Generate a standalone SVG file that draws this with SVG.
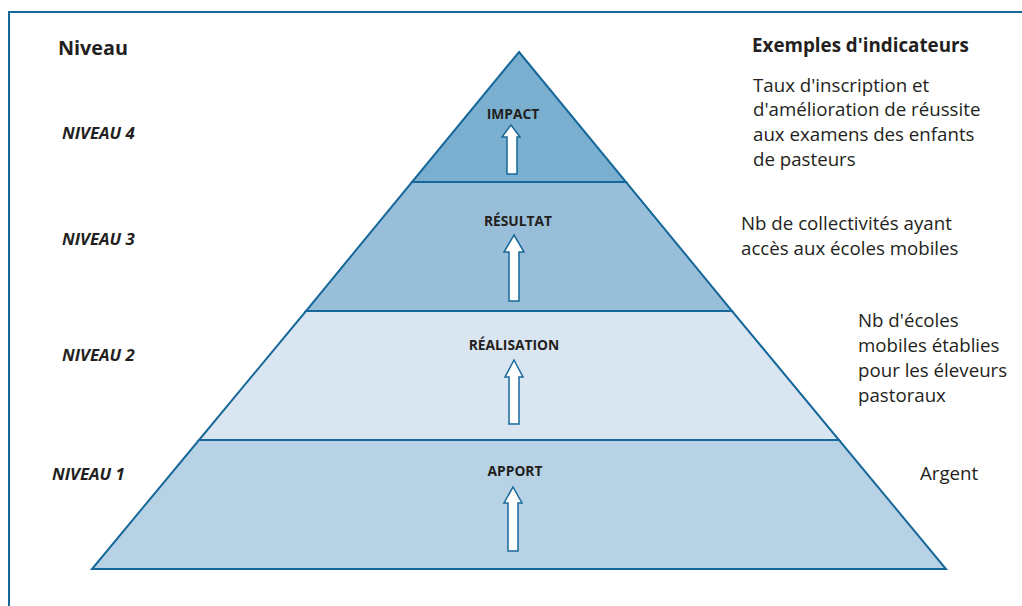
<svg xmlns="http://www.w3.org/2000/svg" width="1022" height="606" viewBox="0 0 1022 606">
<style>
.tier{stroke:#17689a;stroke-width:2;stroke-linejoin:miter}
.arrow{fill:#ffffff;stroke:#17689a;stroke-width:1.5}
.lvl{font-family:"Open Sans","Liberation Sans",sans-serif;font-weight:bold;font-style:italic;font-size:16.8px;fill:#231f20}
.tag{font-family:"Open Sans","Liberation Sans",sans-serif;font-weight:bold;font-size:13.8px;fill:#231f20;text-anchor:middle}
.ind{font-family:"Open Sans","Liberation Sans",sans-serif;font-size:18.7px;fill:#231f20}
.head{font-family:"Open Sans","Liberation Sans",sans-serif;font-weight:bold;font-size:18.8px;fill:#231f20}
</style>
<rect width="1022" height="606" fill="#ffffff"/>
<path d="M9,606 V12 H1022" fill="none" stroke="#17689a" stroke-width="2"/>
<text class="head" x="58" y="55" style="font-size:19.8px">Niveau</text>
<text class="head" x="752" y="52">Exemples d'indicateurs</text>
<g id="tier1">
<polygon class="tier" points="199,440 839,440 946,569 92,569" fill="#b7d2e5"/>
<text class="tag" x="515" y="476">APPORT</text>
<polygon class="arrow" points="513,487 522,503 518,503 518,551 508,551 508,503 504,503"/>
</g>
<g id="tier2">
<polygon class="tier" points="306,311 732,311 839,440 199,440" fill="#d9e6f1"/>
<text class="tag" x="514" y="350">RÉALISATION</text>
<polygon class="arrow" points="514,360 523,377 519,377 519,424 509,424 509,377 505,377"/>
</g>
<g id="tier3">
<polygon class="tier" points="412,182 626,182 732,311 306,311" fill="#98bed9"/>
<text class="tag" x="518" y="226">RÉSULTAT</text>
<polygon class="arrow" points="514,235 524,252 519,252 519,301 509,301 509,252 504,252"/>
</g>
<g id="tier4">
<polygon class="tier" points="519,52 626,182 412,182" fill="#7aafcf"/>
<text class="tag" x="513" y="119">IMPACT</text>
<polygon class="arrow" points="511,125 520,137 517,137 517,174 507,174 507,137 502,137"/>
</g>
<g id="levels">
<text class="lvl" x="62" y="139">NIVEAU 4</text>
<text class="lvl" x="62" y="245">NIVEAU 3</text>
<text class="lvl" x="62" y="361">NIVEAU 2</text>
<text class="lvl" x="52" y="480">NIVEAU 1</text>
</g>
<g id="indicators">
<text class="ind" x="753" y="92">Taux d'inscription et</text>
<text class="ind" x="753" y="116">d'amélioration de réussite</text>
<text class="ind" x="753" y="141">aux examens des enfants</text>
<text class="ind" x="753" y="166">de pasteurs</text>
<text class="ind" x="741" y="230">Nb de collectivités ayant</text>
<text class="ind" x="741" y="255">accès aux écoles mobiles</text>
<text class="ind" x="858" y="327">Nb d'écoles</text>
<text class="ind" x="858" y="352">mobiles établies</text>
<text class="ind" x="858" y="377">pour les éleveurs</text>
<text class="ind" x="858" y="402">pastoraux</text>
<text class="ind" x="920" y="480">Argent</text>
</g>
</svg>
